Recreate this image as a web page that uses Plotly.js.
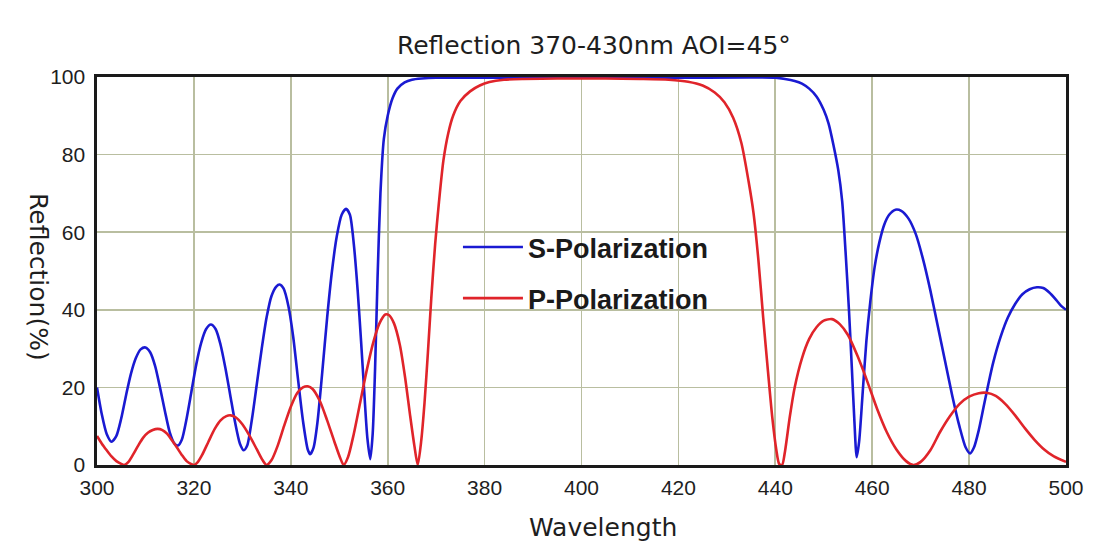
<!DOCTYPE html>
<html>
<head>
<meta charset="utf-8">
<script src="https://cdn.plot.ly/plotly-3.0.1.min.js"></script>
<style>html,body{margin:0;padding:0;background:#fff;}#chart{width:1108px;height:553px;}</style>
</head>
<body>
<div id="chart"></div>
<script>
// Wavelength (nm) and reflection (%)
var sWavelength = [300,301,302,303,304,305,306,307,308,309,310,311,312,313,314,315,316,316.7,317.5,318.5,319.5,320.5,321.5,322.5,323.5,324.5,325.5,326.5,327.5,328.5,329.5,330.3,331,332,333,334,335,336,337,337.7,338.5,339.5,340.5,341.5,342.5,343.5,344,344.7,345.5,346.5,347.5,348.5,349.5,350.5,351.4,352.2,353,353.8,354.5,355.2,355.8,356.4,356.9,357.4,357.9,358.5,359.2,360,361,362,363.5,365,367,370,380,400,420,440,442,444,445.5,447,448.5,450,451,452,453,453.8,454.5,455.2,455.8,456.3,456.8,457.3,458,458.8,459.6,460.5,461.5,462.5,463.5,464.8,466,467.5,469,470.5,472,473.5,475,476.5,478,479.3,480.2,481,482,483,484,485,486.5,488,489.5,491,492.5,494,495.3,496.5,498,499,500];
var sReflection = [20,13,8,6,7.5,12,18,23.5,27.5,29.8,30.3,29,25.5,20,14,8.5,5.5,5,6.5,12,19,26,31.5,35,36.2,35,31,25,18,11,5.5,3.8,5,12,21,30,38,43.5,46,46.5,45.5,41,33,22,11.5,4,2.8,4.5,11,24,38,50,59,64.5,66,64.5,57,45,32,18,7,1.5,8,25,48,70,84,90,94.5,97,98.6,99.3,99.6,99.8,99.8,99.8,99.8,99.8,99.5,99,98.3,97,95,91.5,88,82.5,76,68,55,40,25,12,2,6,18,32,42,51,57.5,62,64.5,65.8,65.5,63.5,59.5,53,45,36,27,18,10,4.5,3,4.5,9,15,21,26.5,33,38,41.5,44,45.3,45.8,45.6,44.5,42.5,41,40];

var pWavelength = [300,301,302,303,304,305,305.6,306.5,307.5,308.5,309.5,310.5,311.5,312.5,313.5,314.5,315.5,316.5,317.5,318.5,319.5,320,320.7,321.7,323,324.3,325.5,326.7,327.6,328.6,330,331.5,333,334.2,335,336,337.3,338.6,340,341.3,342.5,343.5,344.5,346,347.5,349,350.2,350.9,351.8,353,354.3,355.6,357,358.3,359.5,360.3,361.3,362.5,363.6,364.6,365.5,366.2,366.9,367.6,368.3,369,369.8,370.6,371.5,372.5,373.5,375,377,379,381,384,388,395,405,412,418,422,425,427.5,429.5,431.3,433,434.5,435.5,436.5,437.5,438.5,439.4,440.2,440.8,441.4,442,443,444,445.5,447,448.5,450,451.7,453.3,455,457,459,461,463,465,467,468.5,470,472,474,476,478,480,482,483.6,485.5,487.5,489.5,491.5,493.5,495.5,497.5,500];
var pReflection = [7.5,5.5,3.8,2.2,1,0.3,0,0.8,2.8,5,7,8.3,9,9.3,9,8,6.3,4.5,2.6,1,0.2,0,0.6,2.6,6,9.3,11.5,12.6,12.8,12.3,10.5,7.5,4,1.2,0,1.2,5,10,15,18.5,20,20.3,19.6,16.5,11.5,6,1.8,0,2,8,16,24,31.5,36.5,38.8,38.6,36.5,31,22.5,13,5,0,6,16,29,43,57,68,78.5,85.5,90,93.8,96.3,97.8,98.7,99.3,99.5,99.6,99.6,99.5,99.3,98.8,97.8,96,93.5,89.5,83,73,65,53,38,24,12,4,0.3,0,3.5,12.5,20,27.5,32.5,35.5,37.2,37.6,36.3,33.5,28,21.5,14.5,8.5,4,1,0,0.8,3.8,8.5,12.5,15.7,17.6,18.5,18.6,17.8,15.7,12.8,9.5,6.5,4,2.2,0.8];

var xTicks = [300,320,340,360,380,400,420,440,460,480,500];
var yTicks = [0,20,40,60,80,100];
var seriesNames = ['S-Polarization','P-Polarization'];
var chartTitle = 'Reflection 370-430nm AOI=45°';
var xTitle = 'Wavelength';
var yTitle = 'Reflection(%)';

var sans = '"Liberation Sans", Arial, sans-serif';
var wide = '"DejaVu Sans", Verdana, sans-serif';

var traces = [
  {x: sWavelength, y: sReflection, name: seriesNames[0], legendgroup: 's', type: 'scatter', mode: 'lines',
   line: {color: '#1a1ad2', width: 2.6, shape: 'spline', smoothing: 0.7}},
  {x: pWavelength, y: pReflection, name: seriesNames[1], legendgroup: 'p', type: 'scatter', mode: 'lines',
   line: {color: '#e0242a', width: 2.6, shape: 'spline', smoothing: 0.7}}
];

var axisCommon = {
  showgrid: true, gridcolor: '#b9bea0', gridwidth: 1.6,
  showline: true, linecolor: '#1a1a1a', linewidth: 2.6, mirror: true,
  zeroline: false, ticks: '', fixedrange: true,
  tickfont: {family: sans, size: 21, color: '#1e1e1e'}
};

var layout = {
  width: 1108, height: 553,
  margin: {l: 97, r: 42, t: 77, b: 88},
  paper_bgcolor: '#ffffff', plot_bgcolor: '#ffffff',
  title: {text: chartTitle, font: {family: wide, size: 25, color: '#1e1e1e'},
          x: 0.536, xref: 'container', xanchor: 'center', y: 1 - 45/553, yref: 'container', yanchor: 'middle'},
  xaxis: Object.assign({}, axisCommon, {range: [300, 500], tickvals: xTicks, ticktext: xTicks.map(String), ticklabelstandoff: 2}),
  yaxis: Object.assign({}, axisCommon, {range: [0, 100], tickvals: yTicks, ticktext: yTicks.map(String), ticklabelstandoff: 5}),
  showlegend: true,
  legend: {x: 0.3725, y: (465-273)/388, xanchor: 'left', yanchor: 'middle', bgcolor: 'rgba(0,0,0,0)',
           font: {family: sans, size: 27, color: '#1a1a1a', weight: 'bold'},
           itemwidth: 60, tracegroupgap: 13},
  annotations: [
    {text: xTitle, xref: 'paper', yref: 'paper', x: (603-97)/969, y: -(527-465)/388,
     xanchor: 'center', yanchor: 'middle', showarrow: false, font: {family: wide, size: 25, color: '#1e1e1e'}},
    {text: yTitle, xref: 'paper', yref: 'paper', x: (39-97)/969, y: (465-277)/388, textangle: 90,
     xanchor: 'center', yanchor: 'middle', showarrow: false, font: {family: wide, size: 25, color: '#1e1e1e'}}
  ]
};

Plotly.newPlot('chart', traces, layout, {displayModeBar: false, staticPlot: true});
</script>
</body>
</html>
